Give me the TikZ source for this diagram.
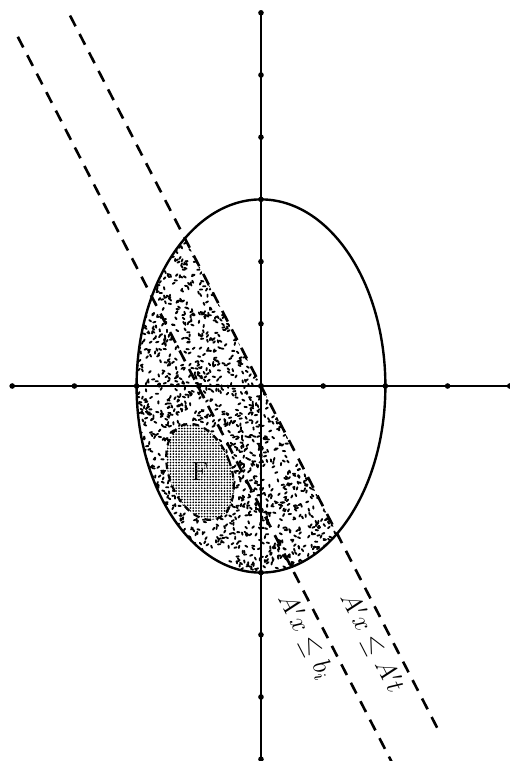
\documentclass[tikz,border=0pt]{standalone}
\usetikzlibrary{patterns.meta}
\begin{document}
\begin{tikzpicture}[x=1cm,y=1cm,
  axisline/.style={line width=0.9pt},
  tickdot/.style={fill=black},
  bound/.style={line width=1.2pt, dash pattern=on 5.5pt off 4pt},
  lbl/.style={font=\large, rotate=-62.7, inner sep=1pt}]
\useasboundingbox (-4.196,-6.029) rectangle (4.003,6.206);
% stippled half of the ellipse
\begin{scope}
\clip (0,0) ellipse [x radius=2, y radius=3];
\clip (-3.2,6.208) -- (3.2,-6.208) -- (-4,-6.2) -- (-4,6.2) -- cycle;
\pgfmathsetseed{11}
\foreach \i in {1,...,2400}{
  \pgfmathsetmacro\sx{-2+3.3*rnd}
  \pgfmathsetmacro\sy{-3+5.5*rnd}
  \pgfmathsetmacro\sa{180*rnd}
  \draw[line width=0.85pt, line cap=round] (\sx,\sy) -- ++(\sa:0.038);
}
\end{scope}
% region F
\begin{scope}[rotate around={20:(-0.98,-1.38)}]
\fill[white] (-0.98,-1.38) ellipse [x radius=0.5, y radius=0.8];
\fill[pattern={Dots[distance=1.3pt, radius=0.45pt]}] (-0.98,-1.38) ellipse [x radius=0.5, y radius=0.8];
\draw[line width=1pt, dash pattern=on 3pt off 2.5pt] (-0.98,-1.38) ellipse [x radius=0.5, y radius=0.8];
\end{scope}
\node[font=\large, inner sep=1pt] (f) at (-0.98,-1.38) {F};
% axes
\coordinate (xl) at (-4,0);
\coordinate (xr) at (4,0);
\coordinate (yb) at (0,-6);
\coordinate (yt) at (0,6);
\draw[axisline] (xl) -- (xr);
\draw[axisline] (yb) -- (yt);
\foreach \t in {-4,...,4} \fill[tickdot] (\t,0) circle [radius=0.045];
\foreach \t in {-6,...,6} \fill[tickdot] (0,\t) circle [radius=0.045];
% ellipse
\draw[line width=1.1pt] (0,0) ellipse [x radius=2, y radius=3];
% the two cuts
\coordinate (ba) at (-3.91,5.615);
\coordinate (bb) at (2.12,-6.08);
\coordinate (ta) at (-3.07,5.956);
\coordinate (tb) at (2.85,-5.529);
\draw[bound] (ba) -- (bb);
\draw[bound] (ta) -- (tb);
\node[lbl] (cutb) at (0.72,-4.03) {$A'x\le b_i$};
\node[lbl] (cutt) at (1.785,-4.13) {$A'x\le A't$};
\end{tikzpicture}
\end{document}
